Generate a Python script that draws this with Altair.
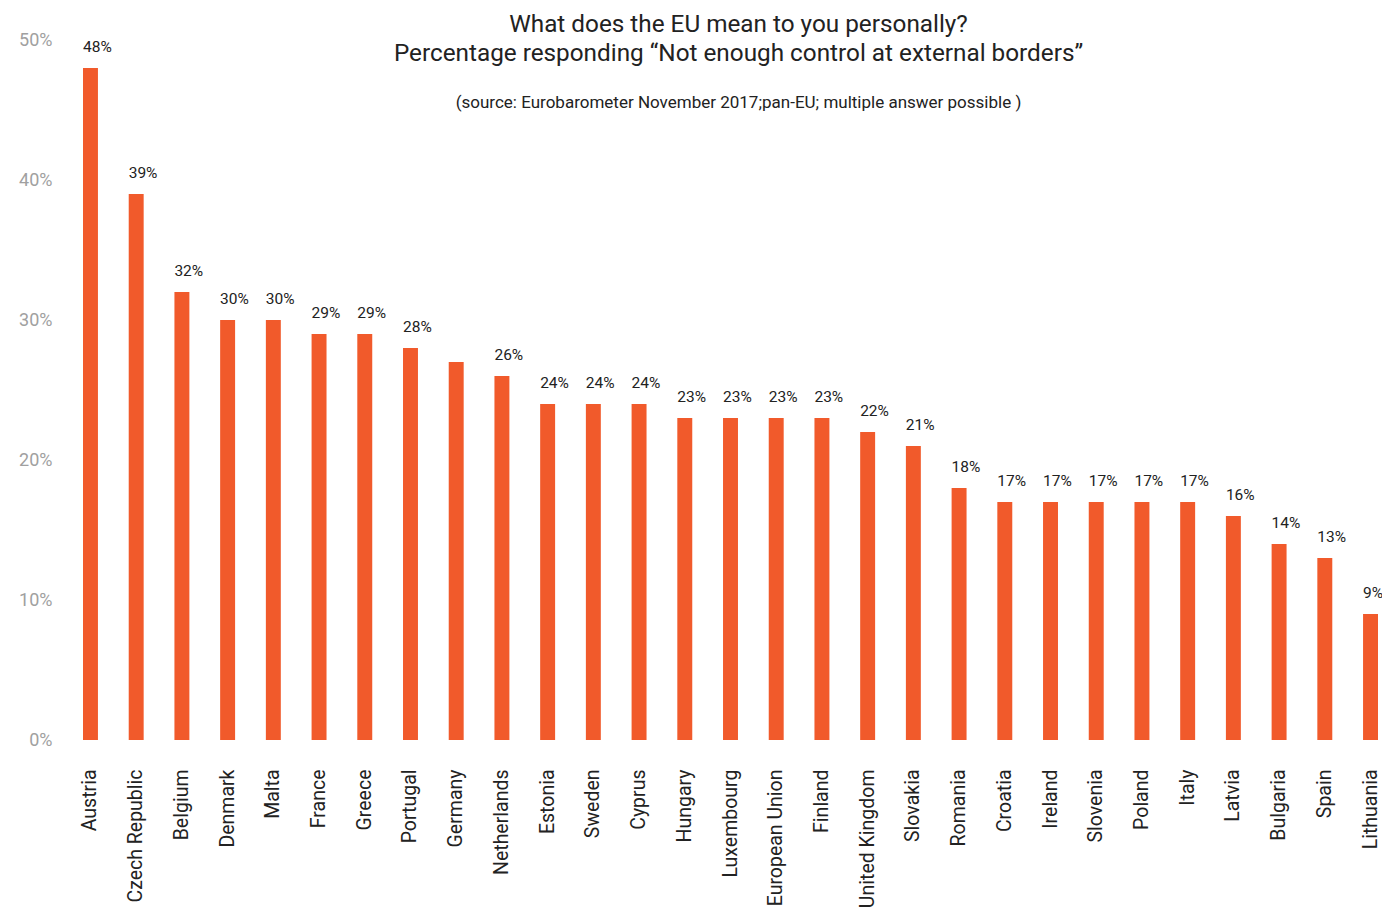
import altair as alt
import pandas as pd

countries = ["Austria", "Czech Republic", "Belgium", "Denmark", "Malta", "France", "Greece",
             "Portugal", "Germany", "Netherlands", "Estonia", "Sweden", "Cyprus", "Hungary",
             "Luxembourg", "European Union", "Finland", "United Kingdom", "Slovakia", "Romania",
             "Croatia", "Ireland", "Slovenia", "Poland", "Italy", "Latvia", "Bulgaria", "Spain",
             "Lithuania"]
values = [48, 39, 32, 30, 30, 29, 29, 28, 27, 26, 24, 24, 24, 23, 23, 23, 23, 22, 21, 18,
          17, 17, 17, 17, 17, 16, 14, 13, 9]
labels = ["48%", "39%", "32%", "30%", "30%", "29%", "29%", "28%", "", "26%", "24%", "24%",
          "24%", "23%", "23%", "23%", "23%", "22%", "21%", "18%", "17%", "17%", "17%", "17%",
          "17%", "16%", "14%", "13%", "9%"]
y_ticks = [0, 10, 20, 30, 40, 50]

df = pd.DataFrame({"country": countries, "value": values, "label": labels})

FONT = "Roboto"
BAR = "#f15a2b"

x = alt.X("country:N", sort=countries, title=None,
          scale=alt.Scale(paddingInner=0.673, paddingOuter=0),
          axis=alt.Axis(labelAngle=-90, labelAlign="right", labelBaseline="middle",
                        labelPadding=29, ticks=False, tickSize=0, domain=False, grid=False,
                        labelFontSize=19.5, labelColor="#222222", labelFont=FONT,
                        labelOverlap=False))
y = alt.Y("value:Q", title=None, scale=alt.Scale(domain=[0, 50], nice=False),
          axis=alt.Axis(values=y_ticks, labelExpr="datum.value + '%'", grid=False,
                        domain=False, ticks=False, tickSize=0, labelPadding=31,
                        labelFontSize=18, labelColor="#a0a0a0", labelFont=FONT))

bars = alt.Chart(df).mark_bar(color=BAR).encode(x=x, y=y)
text = alt.Chart(df).mark_text(align="left", baseline="middle", dx=-7.5, dy=-21,
                               fontSize=15.5, font=FONT, color="#222222").encode(
    x=alt.X("country:N", sort=countries),
    y=alt.Y("value:Q"),
    text="label:N")

chart = alt.layer(bars, text).properties(
    width=1295, height=700,
    background="white",
    autosize=alt.AutoSizeParams(type="none"),
    padding={"top": 40, "left": 83, "right": 4, "bottom": 167},
    title=alt.TitleParams(
        text=["What does the EU mean to you personally?",
              "Percentage responding \u201cNot enough control at external borders\u201d"],
        subtitle="(source: Eurobarometer November 2017;pan-EU; multiple answer possible )",
        anchor="middle", dx=8, fontSize=24.3, font=FONT, fontWeight="normal",
        color="#222222", lineHeight=29, subtitleFont=FONT, subtitleFontSize=17,
        subtitleColor="#222222", subtitlePadding=29, offset=-80),
).configure_view(strokeWidth=0, stroke="transparent")

chart.save("out.html", embed_options={"renderer": "svg", "actions": False})
